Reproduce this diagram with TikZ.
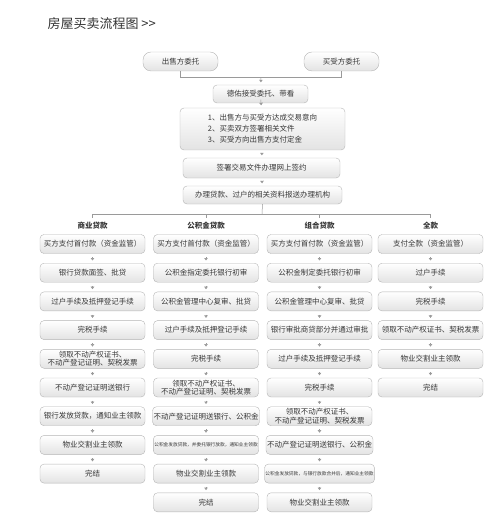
\documentclass[tikz,border=0pt]{standalone}
\usepackage{fontspec}
\setmainfont{Noto Sans CJK SC}
\usetikzlibrary{arrows.meta}

\definecolor{boxline}{HTML}{B4B4B4}
\definecolor{txt}{HTML}{383838}
\definecolor{conn}{HTML}{9A9A9A}

\begin{document}
\begin{tikzpicture}[x=1pt, y=1pt, every node/.style={font=\fontsize{7.5}{8.5}\selectfont, text=txt},
	box/.style={draw=boxline, rounded corners=4pt, top color=white, bottom color=gray!22, minimum width=105pt, minimum height=19pt, inner sep=1pt, align=center},
	pill/.style={box, rounded corners=8pt},
	link/.style={draw=conn, line width=0.5pt},
	flow/.style={link, shorten <=3.5pt, shorten >=2.5pt, -{Triangle[length=2.5pt,width=3.5pt]}},
	colhead/.style={font=\fontsize{7.5}{9}\selectfont\bfseries}]
	\useasboundingbox (0,0) rectangle (500,-513);
	\node[anchor=west, font=\fontsize{13}{15}\selectfont, text=black!80] (title) at (44,-24) {房屋买卖流程图 >{}>};
	% entrusting
	\node[pill, minimum width=75pt] (sell) at (180.5,-61.5) {出售方委托};
	\node[pill, minimum width=75pt] (buy) at (341.5,-61.5) {买受方委托};
	\node[box, minimum width=95pt, minimum height=18pt] (accept) at (260.5,-94) {德佑接受委托、带看};
	\node[box, minimum width=165pt, minimum height=42pt, align=left, font=\fontsize{7.5}{11}\selectfont] (deal) at (262.5,-129) {1、出售方与买受方达成交易意向\\2、买卖双方签署相关文件\\3、买受方向出售方支付定金};
	\node[box, minimum width=157pt, minimum height=20pt] (sign) at (261.5,-168) {签署交易文件办理网上签约};
	\node[box, minimum width=159pt, minimum height=18pt] (docs) at (262.5,-195) {办理贷款、过户的相关资料报送办理机构};
	\coordinate (meet) at (261,-77);
	\draw[link] (sell.south) -- ++(0,-6) -| (buy.south);
	\draw[flow, shorten <=1pt] (meet) -- (accept);
	\draw[flow] (accept) -- (deal);
	\draw[flow] (deal) -- (sign);
	\draw[flow] (sign) -- (docs);
	% four ways of paying
	\node[colhead] (h1) at (92.5,-226) {商业贷款};
	\node[colhead] (h2) at (206,-226) {公积金贷款};
	\node[colhead] (h3) at (319.5,-226) {组合贷款};
	\node[colhead] (h4) at (430.5,-226) {全款};
	\coordinate (bar) at (262,-214);
	\draw[link] (docs.south) -- (bar);
	\draw[link] (h1.north |- bar) -- (h4.north |- bar);
	\foreach \h in {h1,h2,h3,h4} \draw[link] (\h.north |- bar) -- ++(0,-4);
	% commercial loan
	\foreach \t [count=\i] in {买方支付首付款（资金监管）, 银行贷款面签、批贷, 过户手续及抵押登记手续, 完税手续,
		{领取不动产权证书、\\不动产登记证明、契税发票}, 不动产登记证明送银行, 银行发放贷款，通知业主领款, 物业交割业主领款, 完结}
		\node[box] (a\i) at (92.5,{-244-28.7*(\i-1)}) {\t};
	\foreach \i [remember=\i as \j (initially 1)] in {2,...,9} \draw[flow] (a\j) -- (a\i);
	% provident fund loan
	\foreach \t [count=\i] in {买方支付首付款（资金监管）, 公积金指定委托银行初审, 公积金管理中心复审、批贷, 过户手续及抵押登记手续, 完税手续,
		{领取不动产权证书、\\不动产登记证明、契税发票}, 不动产登记证明送银行、公积金,
		{\fontsize{4.7}{5}\selectfont 公积金发放贷款，并委托银行放款，通知业主领款}, 物业交割业主领款, 完结}
		\node[box] (b\i) at (206,{-244-28.7*(\i-1)}) {\t};
	\foreach \i [remember=\i as \j (initially 1)] in {2,...,10} \draw[flow] (b\j) -- (b\i);
	% combined loan
	\foreach \t [count=\i] in {买方支付首付款（资金监管）, 公积金制定委托银行初审, 公积金管理中心复审、批贷, 银行审批商贷部分并通过审批,
		过户手续及抵押登记手续, 完税手续, {领取不动产权证书、\\不动产登记证明、契税发票}, 不动产登记证明送银行、公积金,
		{\fontsize{4.7}{5}\selectfont 公积金发放贷款，与银行放款合并后，通知业主领款}, 物业交割业主领款}
		\node[box] (c\i) at (319.5,{-244-28.7*(\i-1)}) {\t};
	\foreach \i [remember=\i as \j (initially 1)] in {2,...,10} \draw[flow] (c\j) -- (c\i);
	% full payment
	\foreach \t [count=\i] in {支付全款（资金监管）, 过户手续, 完税手续, 领取不动产权证书、契税发票, 物业交割业主领款, 完结}
		\node[box] (d\i) at (430.5,{-244-28.7*(\i-1)}) {\t};
	\foreach \i [remember=\i as \j (initially 1)] in {2,...,6} \draw[flow] (d\j) -- (d\i);
\end{tikzpicture}
\end{document}
